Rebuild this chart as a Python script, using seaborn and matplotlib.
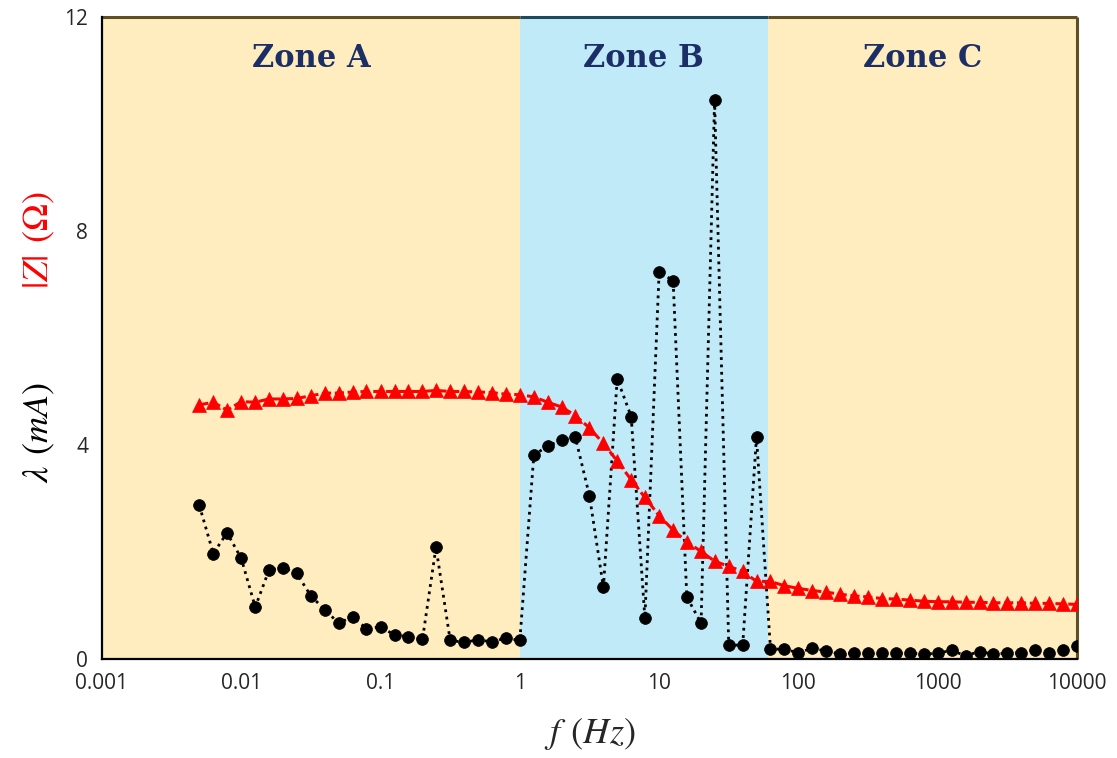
import numpy as np
import pandas as pd
import matplotlib
matplotlib.use("Agg")
import matplotlib.pyplot as plt
import seaborn as sns

# Frequencies (Hz), ten points per decade
freq = [0.005, 0.0063, 0.0079, 0.01, 0.0126, 0.0158, 0.02, 0.025, 0.0316, 0.0398,
        0.05, 0.063, 0.079, 0.1, 0.126, 0.158, 0.2, 0.25, 0.316, 0.398,
        0.5, 0.63, 0.79, 1.0, 1.26, 1.58, 2.0, 2.5, 3.16, 3.98,
        5.0, 6.3, 7.9, 10.0, 12.6, 15.8, 20.0, 25.0, 31.6, 39.8,
        50.0, 63.0, 79.0, 100.0, 126.0, 158.0, 200.0, 251.0, 316.0, 398.0,
        501.0, 631.0, 794.0, 1000.0, 1259.0, 1585.0, 1995.0, 2512.0, 3162.0, 3981.0,
        5012.0, 6310.0, 7943.0, 10000.0]

# Current lambda (mA)
lam = [2.87, 1.97, 2.36, 1.88, 0.97, 1.66, 1.71, 1.60, 1.18, 0.92,
       0.67, 0.79, 0.57, 0.60, 0.45, 0.42, 0.37, 2.09, 0.35, 0.31,
       0.36, 0.32, 0.39, 0.35, 3.81, 3.98, 4.09, 4.15, 3.05, 1.34,
       5.24, 4.53, 0.76, 7.24, 7.07, 1.16, 0.67, 10.45, 0.26, 0.26,
       4.15, 0.19, 0.18, 0.12, 0.20, 0.15, 0.09, 0.12, 0.11, 0.11,
       0.11, 0.11, 0.09, 0.11, 0.16, 0.06, 0.14, 0.09, 0.11, 0.12,
       0.16, 0.12, 0.16, 0.24]

# Impedance modulus |Z| (Ohm)
zmod = [4.75, 4.80, 4.65, 4.81, 4.80, 4.86, 4.86, 4.87, 4.92, 4.97,
        4.97, 4.99, 5.00, 5.00, 5.00, 5.00, 5.00, 5.02, 5.00, 5.00,
        4.99, 4.98, 4.95, 4.94, 4.90, 4.80, 4.71, 4.55, 4.32, 4.03,
        3.70, 3.35, 3.02, 2.68, 2.41, 2.19, 2.01, 1.83, 1.73, 1.64,
        1.45, 1.45, 1.37, 1.32, 1.28, 1.25, 1.21, 1.18, 1.16, 1.13,
        1.12, 1.10, 1.08, 1.07, 1.07, 1.06, 1.06, 1.05, 1.05, 1.05,
        1.04, 1.04, 1.03, 1.02]

zone_names = ["Zone A", "Zone B", "Zone C"]
zone_edges = [0.001, 1.0, 60.0, 10000.0]
zone_fill = ["#FFEDC0", "#C0EAF8", "#FFEDC0"]
zone_edge = ["#5E4F26", "#1E4A5C", "#5E4F26"]

xticks = [0.001, 0.01, 0.1, 1, 10, 100, 1000, 10000]
xticklabels = ["0.001", "0.01", "0.1", "1", "10", "100", "1000", "10000"]
yticks = [0, 4, 8, 12]

df = pd.DataFrame({"f": freq, "lam": lam, "z": zmod})

sns.set_style("white")
plt.rcParams["mathtext.fontset"] = "stix"

fig = plt.figure(figsize=(11.17, 7.58), dpi=100)
ax = fig.add_axes([0.0913, 0.1306, 0.8729, 0.847])
ax.set_xscale("log")
ax.set_xlim(zone_edges[0], zone_edges[-1])
ax.set_ylim(0, 12)

# Shaded frequency zones with their titles
for i, name in enumerate(zone_names):
    lo, hi = zone_edges[i], zone_edges[i + 1]
    ax.axvspan(lo, hi, color=zone_fill[i], lw=0, zorder=0)
    ax.hlines(12, lo, hi, colors=zone_edge[i], lw=2.2, zorder=1, clip_on=False)
    ax.text(np.sqrt(lo * hi), 11.23, name, ha="center", va="center",
            fontsize=22, fontweight="bold", family="DejaVu Serif",
            color="#1B2F66", zorder=5)
ax.vlines(zone_edges[-1], 0, 12, colors=zone_edge[-1], lw=2.2, zorder=1, clip_on=False)

sns.lineplot(data=df, x="f", y="lam", ax=ax, color="black", linestyle=":",
             linewidth=2.0, marker="o", markersize=8.5, markeredgecolor="black",
             markeredgewidth=0.5, errorbar=None, zorder=3)
sns.lineplot(data=df, x="f", y="z", ax=ax, color="#FF0000", linestyle=(0, (3, 1.2)),
             linewidth=2.2, marker="^", markersize=9.5, markeredgecolor="#FF0000",
             markeredgewidth=0.5, errorbar=None, zorder=4)

ax.set_xticks(xticks)
ax.set_xticklabels(xticklabels)
ax.xaxis.set_minor_locator(matplotlib.ticker.NullLocator())
ax.set_yticks(yticks)
ax.tick_params(axis="both", which="major", direction="inout", length=12,
               width=1.2, color="black", labelsize=15, pad=4)
for lab in ax.get_xticklabels() + ax.get_yticklabels():
    lab.set_family("Open Sans")

for side in ["top", "right"]:
    ax.spines[side].set_visible(False)
for side in ["left", "bottom"]:
    ax.spines[side].set_color("black")
    ax.spines[side].set_linewidth(1.6)
    ax.spines[side].set_zorder(6)

ax.set_xlabel(r"$f\;\,(Hz)$", fontsize=26, labelpad=16)
ax.set_ylabel("")
fig.text(0.035, 0.43, r"$\lambda\;\,(mA)$", rotation=90, ha="center", va="center",
         fontsize=26, color="black")
fig.text(0.035, 0.683, r"$|Z|\;\,(\Omega)$", rotation=90, ha="center", va="center",
         fontsize=26, color="#FF0000")

fig.savefig("out.png", dpi=100)
